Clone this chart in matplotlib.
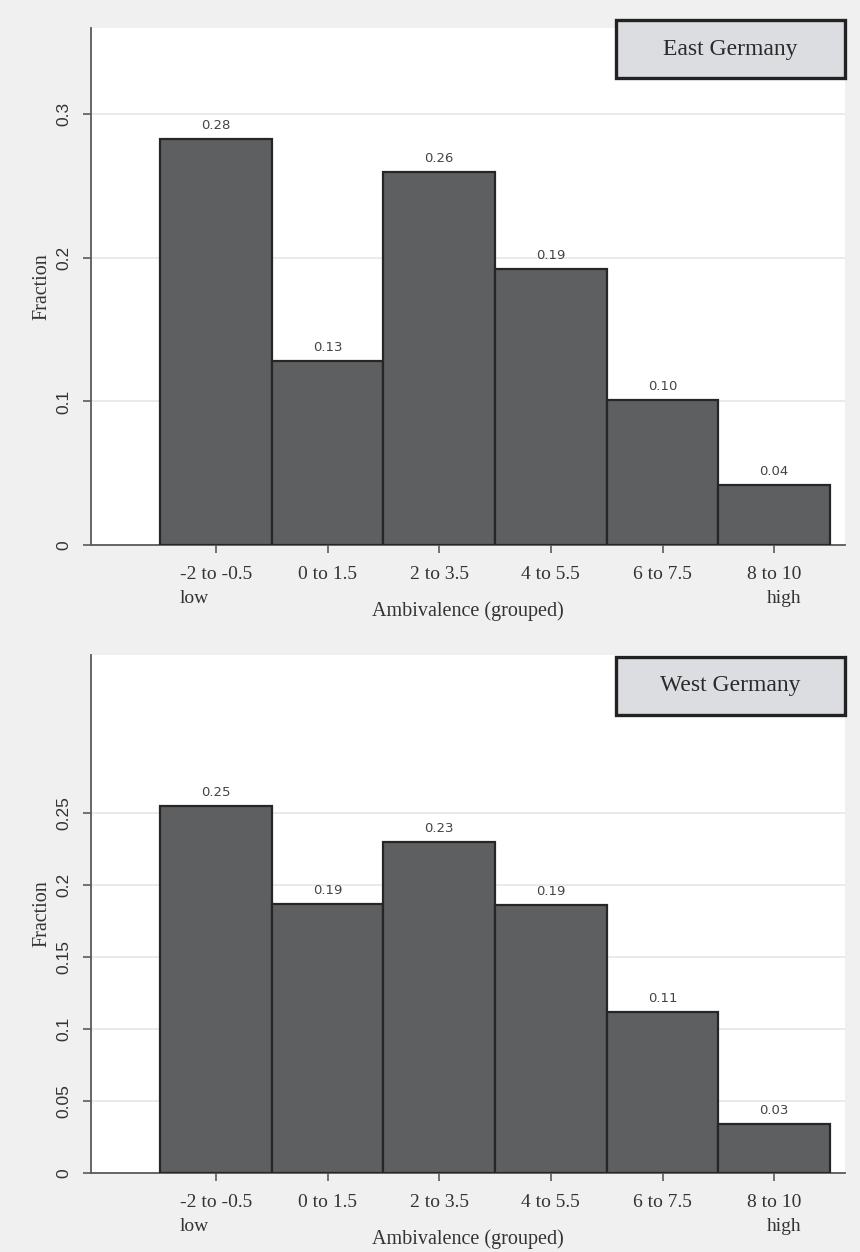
import matplotlib
matplotlib.use("Agg")
import matplotlib.pyplot as plt
from matplotlib.patches import Rectangle

categories = ["-2 to -0.5", "0 to 1.5", "2 to 3.5", "4 to 5.5", "6 to 7.5", "8 to 10"]
east_values = [0.283, 0.128, 0.260, 0.192, 0.101, 0.042]
east_labels = ["0.28", "0.13", "0.26", "0.19", "0.10", "0.04"]
west_values = [0.255, 0.187, 0.230, 0.186, 0.112, 0.034]
west_labels = ["0.25", "0.19", "0.23", "0.19", "0.11", "0.03"]
east_yticks = [0, 0.1, 0.2, 0.3]
east_yticklabels = ["0", "0.1", "0.2", "0.3"]
west_yticks = [0, 0.05, 0.1, 0.15, 0.2, 0.25]
west_yticklabels = ["0", "0.05", "0.1", "0.15", "0.2", "0.25"]
panel_titles = ["East Germany", "West Germany"]
xlabel = "Ambivalence (grouped)"
ylabel = "Fraction"

BG = "#f0f0f0"
BAR = "#5e5f61"
EDGE = "#262626"
AXC = "#5a5a5a"
SERIF = "Liberation Serif"

W, H = 860, 1252
fig = plt.figure(figsize=(W / 100, H / 100), dpi=100, facecolor=BG)

def px_axes(left, top, right, bottom):
    return [left / W, 1 - bottom / H, (right - left) / W, (bottom - top) / H]

panels = [
    (px_axes(91, 28, 845, 545), east_values, east_labels, east_yticks, east_yticklabels, panel_titles[0], (20, 78)),
    (px_axes(91, 655, 845, 1173), west_values, west_labels, west_yticks, west_yticklabels, panel_titles[1], (657, 715)),
]

xticklabels = []
for i, c in enumerate(categories):
    if i == 0:
        xticklabels.append(c + "\nlow")
    elif i == len(categories) - 1:
        xticklabels.append(c + "\nhigh")
    else:
        xticklabels.append(c)

for rect, vals, labs, yt, ytl, title, (y0, y1) in panels:
    ax = fig.add_axes(rect)
    ax.set_facecolor("white")
    x = list(range(len(categories)))
    bars = ax.bar(x, vals, width=1.0, color=BAR, edgecolor=EDGE, linewidth=1.6, zorder=3)
    for b, lab in zip(bars, labs):
        ax.annotate(lab, (b.get_x() + b.get_width() / 2, b.get_height()),
                    xytext=(0, 5), textcoords="offset points", ha="center", va="bottom",
                    fontsize=9.5, color="#444444", family="DejaVu Sans")
    ax.set_xlim(-1.118, 5.634)
    ax.set_ylim(0, 0.36)
    ax.set_yticks(yt)
    ax.set_yticklabels(ytl, rotation=90, va="center", fontsize=12.5,
                       family="Liberation Sans", color="#333333")
    ax.set_xticks(x)
    tl = ax.set_xticklabels(xticklabels, fontsize=14, family=SERIF, color="#333333",
                            linespacing=1.55)
    tl[0].set_multialignment("left")
    tl[-1].set_multialignment("right")
    ax.grid(axis="y", color="#e3e8e8", linewidth=1.2, zorder=0)
    ax.set_axisbelow(True)
    for s in ["top", "right"]:
        ax.spines[s].set_visible(False)
    for s in ["left", "bottom"]:
        ax.spines[s].set_color(AXC)
        ax.spines[s].set_linewidth(1.3)
    ax.tick_params(axis="y", length=6, width=1.2, color=AXC, pad=8)
    ax.tick_params(axis="x", length=6, width=1.2, color=AXC, pad=9)
    ax.set_xlabel(xlabel, fontsize=14.5, family=SERIF, color="#333333", labelpad=-4)
    ax.set_ylabel(ylabel, fontsize=14.5, family=SERIF, color="#333333", labelpad=4)
    # title box
    ax_h = rect[3] * H
    bottom_px = (1 - rect[1]) * H
    fy0 = (bottom_px - y1) / ax_h
    fy1 = (bottom_px - y0) / ax_h
    fx0 = (616 - 91) / 754
    fx1 = (845 - 91) / 754
    r = Rectangle((fx0, fy0), fx1 - fx0, fy1 - fy0, transform=ax.transAxes,
                  facecolor="#dcdde0", edgecolor="#222222", linewidth=2.4,
                  clip_on=False, zorder=5)
    ax.add_patch(r)
    ax.text((fx0 + fx1) / 2, (fy0 + fy1) / 2, title, transform=ax.transAxes,
            ha="center", va="center", fontsize=17, family=SERIF, color="#2a2a2a", zorder=6)

fig.savefig("out.png", dpi=100, facecolor=BG)
